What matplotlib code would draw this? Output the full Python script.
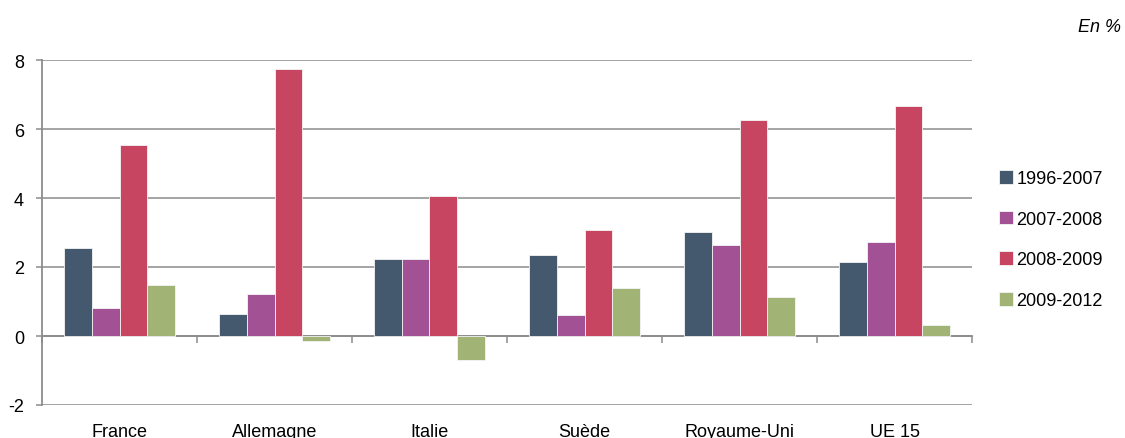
import numpy as np
import matplotlib
matplotlib.use("Agg")
import matplotlib.pyplot as plt

plt.rcParams['font.family'] = ['Liberation Sans', 'DejaVu Sans']
plt.rcParams['axes.unicode_minus'] = False

countries = ['France', 'Allemagne', 'Italie', 'Suède', 'Royaume-Uni', 'UE 15']
periods = ['1996-2007', '2007-2008', '2008-2009', '2009-2012']
v_1996_2007 = [2.56, 0.64, 2.24, 2.36, 3.02, 2.14]
v_2007_2008 = [0.80, 1.23, 2.24, 0.60, 2.64, 2.73]
v_2008_2009 = [5.53, 7.75, 4.07, 3.07, 6.25, 6.66]
v_2009_2012 = [1.47, -0.14, -0.70, 1.40, 1.14, 0.31]
series = [v_1996_2007, v_2007_2008, v_2008_2009, v_2009_2012]
colors = ['#44596E', '#A25194', '#C84562', '#A1B476']

W, H = 1125, 439
fig = plt.figure(figsize=(W / 100, H / 100), dpi=100)
ax = fig.add_axes([42 / W, (H - 406) / H, (972 - 42) / W, (406 - 61) / H])

x = np.arange(len(countries))
bw = 0.18
for i, (vals, col, lab) in enumerate(zip(series, colors, periods)):
    ax.bar(x + (i - 1.5) * bw, vals, bw, color=col, edgecolor='#f4f4f4',
           linewidth=0.6, label=lab, zorder=3)

ax.set_xlim(-0.5, len(countries) - 0.5)
ax.set_ylim(-2, 8)
ax.set_yticks([-2, 0, 2, 4, 6, 8])
ax.yaxis.grid(True, color='#8c8c8c', linewidth=1.1, zorder=0)

# zero line acts as the category axis
ax.spines['bottom'].set_position(('data', 0))
ax.spines['bottom'].set_color('#8c8c8c')
ax.spines['bottom'].set_linewidth(1.3)
ax.spines['left'].set_color('#8c8c8c')
ax.spines['left'].set_linewidth(1.3)
ax.spines['top'].set_visible(False)
ax.spines['right'].set_visible(False)

ax.set_xticks(x)
ax.set_xticklabels([])
ax.tick_params(axis='x', which='major', length=0)
ax.set_xticks(np.arange(len(countries) + 1) - 0.5, minor=True)
ax.tick_params(axis='x', which='minor', length=5, width=1.1, color='#8c8c8c', direction='out')
ax.tick_params(axis='y', length=4, width=1.1, color='#8c8c8c', pad=9, labelsize=13)

trans = ax.get_xaxis_transform()
for xi, name in zip(x, countries):
    ax.text(xi, -0.052, name, transform=trans, ha='center', va='top', fontsize=13)

leg = ax.legend(loc='upper left', bbox_to_anchor=(999 / W, (H - 171) / H),
                bbox_transform=fig.transFigure, frameon=False, fontsize=13,
                handlelength=0.8, handleheight=0.8, handletextpad=0.15,
                labelspacing=1.3, borderpad=0, borderaxespad=0)

fig.text(1121 / W, 1 - 27 / H, 'En %', ha='right', va='center', fontsize=13, style='italic')

fig.savefig('out.png', dpi=100, facecolor='white')
